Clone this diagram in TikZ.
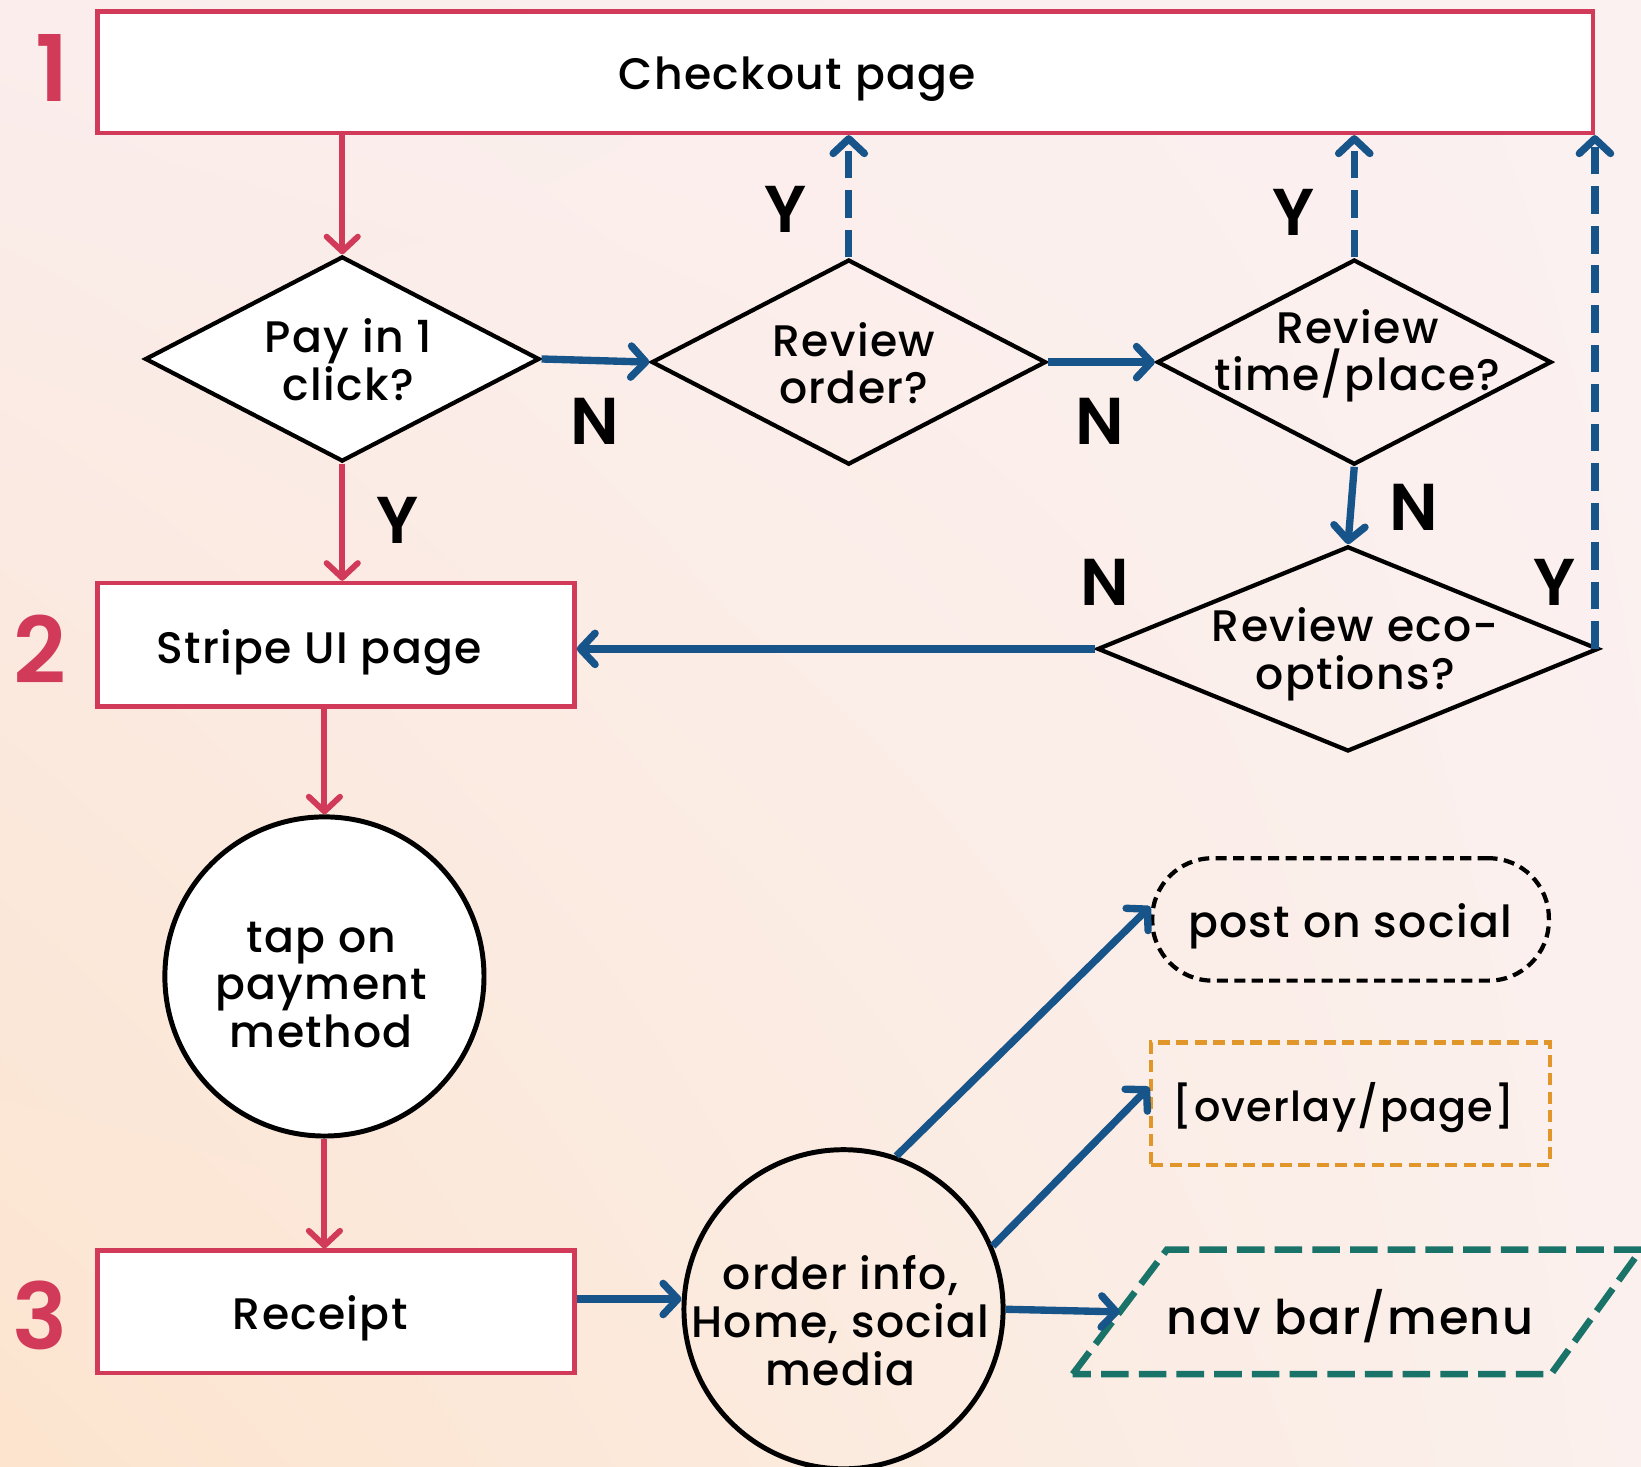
\documentclass[tikz,border=0pt]{standalone}
\usepackage{fontspec}
\setmainfont{Poppins}[UprightFont=* Medium, BoldFont=* SemiBold, LetterSpace=3]
\usetikzlibrary{shapes.geometric,arrows.meta,calc,shadings}
\definecolor{cred}{RGB}{210,58,90}
\definecolor{cblue}{RGB}{22,84,138}
\definecolor{cteal}{RGB}{26,115,105}
\definecolor{corange}{RGB}{224,150,40}
\definecolor{bgtl}{RGB}{250,237,236}
\definecolor{bgtr}{RGB}{251,241,241}
\definecolor{bgbl}{RGB}{252,228,206}
\definecolor{bgbr}{RGB}{251,240,237}
\begin{document}
\begin{tikzpicture}[x=0.02cm,y=-0.02cm,
  redbox/.style={draw=cred, line width=2.4pt, fill=white, minimum width=9.12cm, minimum height=2.36cm, inner sep=0pt},
  dia/.style={diamond, draw=black, line width=2.3pt, minimum width=7.54cm, minimum height=3.92cm, inner sep=0pt},
  circ/.style={circle, draw=black, line width=2.7pt, minimum size=6.1cm, inner sep=0pt},
  txt/.style={font=\fontsize{24}{26}\selectfont, align=center, inner sep=0pt},
  yn/.style={font=\bfseries\fontsize{36}{36}\selectfont, inner sep=0pt},
  num/.style={font=\bfseries\fontsize{50}{50}\selectfont, text=cred, inner sep=0pt},
  tipb/.tip={Straight Barb[length=8pt,width=17pt,round]},
  redarr/.style={draw=cred, line width=3.2pt, -tipb},
  bluearr/.style={draw=cblue, line width=4pt, -tipb},
  bluedash/.style={bluearr, dash pattern=on 15pt off 6.5pt}
]
\shade[upper left=bgtl, upper right=bgtr, lower left=bgbl, lower right=bgbr] (0,0) rectangle (1568,1401);
\useasboundingbox (0,0) rectangle (1568,1401);

% nodes
\node[redbox, minimum width=28.58cm, minimum height=2.32cm] (checkout) at (807.5,69) {};
\node[txt] (tcheckout) at (762,76) {Checkout page};
\node[num] (n1) at (50,65) {1};
\node[num] (n2) at (38,620) {2};
\node[num] (n3) at (38,1257) {3};

\node[dia, fill=white] (pay) at (327,343) {};
\node[txt] (tpay) at (333,344) {Pay in 1\\click?};
\node[dia] (order) at (811,346) {};
\node[txt] (torder) at (816,347) {Review\\order?};
\node[dia] (time) at (1294,346) {};
\node[txt] (ttime) at (1297,340) {Review\\time/place?};
\node[dia, minimum width=9.58cm] (eco) at (1288,620) {};
\node[txt] (teco) at (1295,625) {Review eco-\\options?};

\node[redbox] (stripe) at (321,616) {};
\node[txt] (tstripe) at (305,623) {Stripe UI page};
\node[circ, fill=white] (tap) at (310,933) {};
\node[txt] (ttap) at (307,941) {tap on\\payment\\method};
\node[redbox, minimum height=2.34cm] (receipt) at (321,1253.5) {};
\node[txt] (treceipt) at (306,1260) {Receipt};
\node[circ] (ordc) at (806,1251) {};
\node[txt] (tordc) at (803,1262) {order info,\\Home, social\\media};

\node[draw=black, line width=2.3pt, dash pattern=on 6pt off 3.5pt, rectangle, rounded corners=1.15cm, minimum width=7.58cm, minimum height=2.34cm] (post) at (1290.5,878.5) {};
\node[txt] (tpost) at (1290,885) {post on social};
\node[draw=corange, line width=2.3pt, dash pattern=on 6.5pt off 3.5pt, rectangle, minimum width=7.62cm, minimum height=2.34cm] (overlay) at (1290.5,1054.5) {};
\node[txt, font=\fontsize{22.5}{26}\selectfont] (toverlay) at (1284,1058) {[overlay/page]};
\coordinate (navbl) at (1025,1313);
\coordinate (navtl) at (1115,1194);
\coordinate (navtr) at (1568,1194);
\coordinate (navbr) at (1482,1313);
\coordinate (navw) at ($(navbl)!0.5!(navtl)$);
\draw[cteal, line width=3.6pt, dash pattern=on 15pt off 5.5pt] (navbl) -- (navtl) -- (navtr) -- (navbr) -- cycle;
\node[txt, font=\fontsize{26}{28}\selectfont] (tnav) at (1290,1258) {nav bar/menu};

% labels
\node[yn] (lN1) at (568,403) {N};
\node[yn] (lN2) at (1051,403) {N};
\node[yn] (lY1) at (751,200) {Y};
\node[yn] (lY2) at (1236,203) {Y};
\node[yn] (lN3) at (1351,485) {N};
\node[yn] (lN4) at (1056,556) {N};
\node[yn] (lY3) at (1485,556) {Y};
\node[yn] (lY4) at (380,497) {Y};

% connectors
\draw[redarr] (pay.north |- checkout.south) -- (pay.north);
\draw[redarr] (pay.south) -- (pay.south |- stripe.north);
\draw[redarr] (tap.north |- stripe.south) -- (tap.north);
\draw[redarr] (tap.south) -- (tap.south |- receipt.north);

\draw[bluearr] (pay.east) -- (order.west);
\draw[bluearr] (order.east) -- (time.west);
\draw[bluearr] (time.south) -- (eco.north);
\draw[bluearr] (eco.west) -- (eco.west -| stripe.east);
\draw[bluedash] (order.north) -- (order.north |- checkout.south);
\draw[bluedash] (time.north) -- (time.north |- checkout.south);
\draw[bluedash] (checkout.south east |- eco.east) -- (checkout.south east);

\draw[bluearr] ([yshift=7pt]receipt.east) -- ([yshift=7pt]receipt.east -| ordc.west);
\draw[bluearr] (ordc.71) -- ([yshift=7pt]post.west);
\draw[bluearr] (ordc.23) -- ([yshift=9pt]overlay.west);
\draw[bluearr] (ordc.east) -- (navw);
\end{tikzpicture}
\end{document}
